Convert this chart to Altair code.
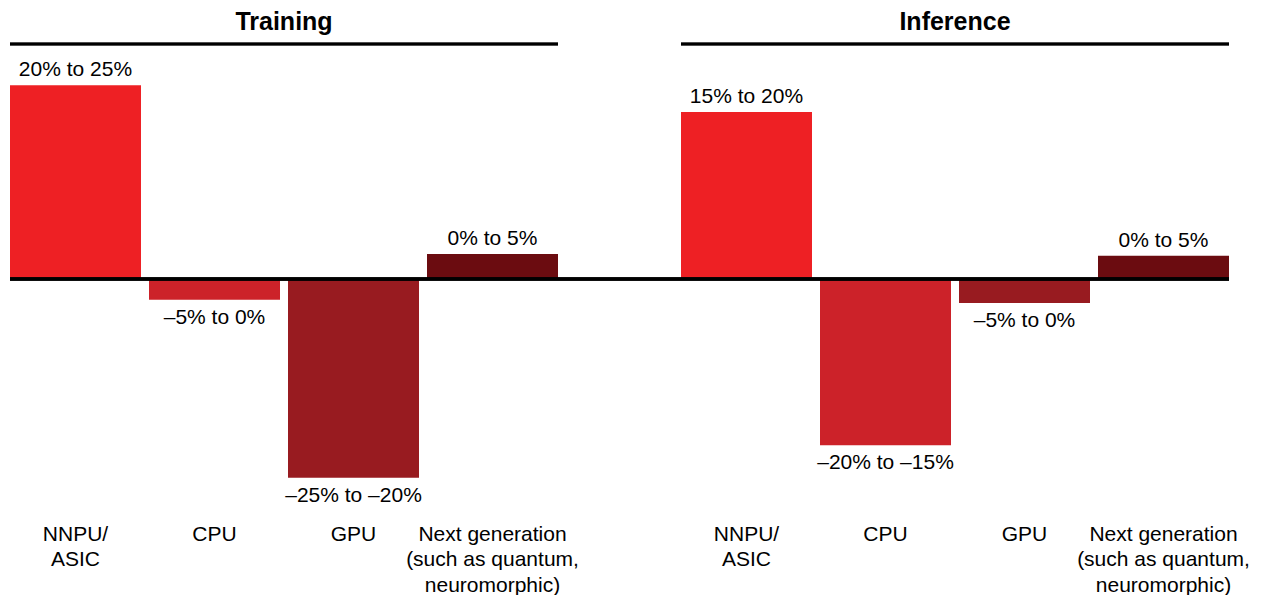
import altair as alt
import pandas as pd

# ---- data ----
panels = ["Training", "Inference"]
categories = ["NNPU/\nASIC", "CPU", "GPU", "Next generation\n(such as quantum,\nneuromorphic)"]
training_values = [22.5, -2.4, -23.1, 2.9]
inference_values = [19.4, -19.3, -2.8, 2.7]
training_labels = ["20% to 25%", "\u20135% to 0%", "\u201325% to \u201320%", "0% to 5%"]
inference_labels = ["15% to 20%", "\u201320% to \u201315%", "\u20135% to 0%", "0% to 5%"]
bar_colors = ["#EE2024", "#CC2229", "#981B20", "#6B0C10"]

FONT = "Liberation Sans"
W, H = 548, 470
GAP = 123
YDOM = [-27.3, 27.3]


def panel(name, values, labels, extend):
    df = pd.DataFrame({"cat": categories, "value": values, "label": labels})
    base = alt.Chart(df)
    x = alt.X("cat:N", sort=categories,
              scale=alt.Scale(paddingInner=0.0576, paddingOuter=0),
              axis=alt.Axis(title=None, domain=False, ticks=False, labelAngle=0,
                            labelExpr="split(datum.label, '\\n')",
                            labelFontSize=21, labelFont=FONT, labelColor="black",
                            labelLineHeight=25.5, labelPadding=9,
                            labelBaseline="top"))
    y = alt.Y("value:Q", scale=alt.Scale(domain=YDOM, nice=False, zero=True), axis=None)
    bars = base.mark_bar().encode(
        x=x, y=y, y2=alt.datum(0),
        color=alt.Color("cat:N", scale=alt.Scale(domain=categories, range=bar_colors),
                        legend=None),
    )
    txt_pos = base.transform_filter("datum.value >= 0").mark_text(
        baseline="bottom", dy=-5, fontSize=21, font=FONT, color="black"
    ).encode(x=alt.X("cat:N", sort=categories), y="value:Q", text="label:N")
    txt_neg = base.transform_filter("datum.value < 0").mark_text(
        baseline="top", dy=7, fontSize=21, font=FONT, color="black"
    ).encode(x=alt.X("cat:N", sort=categories), y="value:Q", text="label:N")
    zero = base.mark_rule(color="black", strokeWidth=3).encode(
        y=alt.datum(0), x=alt.value(0), x2=alt.value(W + extend))
    topline = base.mark_rule(color="black", strokeWidth=2.5).encode(
        y=alt.value(0), x=alt.value(0), x2=alt.value(W))
    return alt.layer(bars, zero, txt_pos, txt_neg, topline).properties(
        width=W, height=H,
        title=alt.TitleParams(name, fontSize=25, fontWeight="bold", font=FONT,
                              color="black", anchor="middle", offset=8),
    )


chart = alt.hconcat(
    panel(panels[0], training_values, training_labels, GAP),
    panel(panels[1], inference_values, inference_labels, 0),
    spacing=GAP,
    bounds="flush",
).properties(
    padding={"left": 0, "top": 1, "right": 0, "bottom": 0},
).configure_view(stroke=None).resolve_scale(color="shared")

chart.save("out.html", embed_options={"renderer": "svg", "actions": False})
